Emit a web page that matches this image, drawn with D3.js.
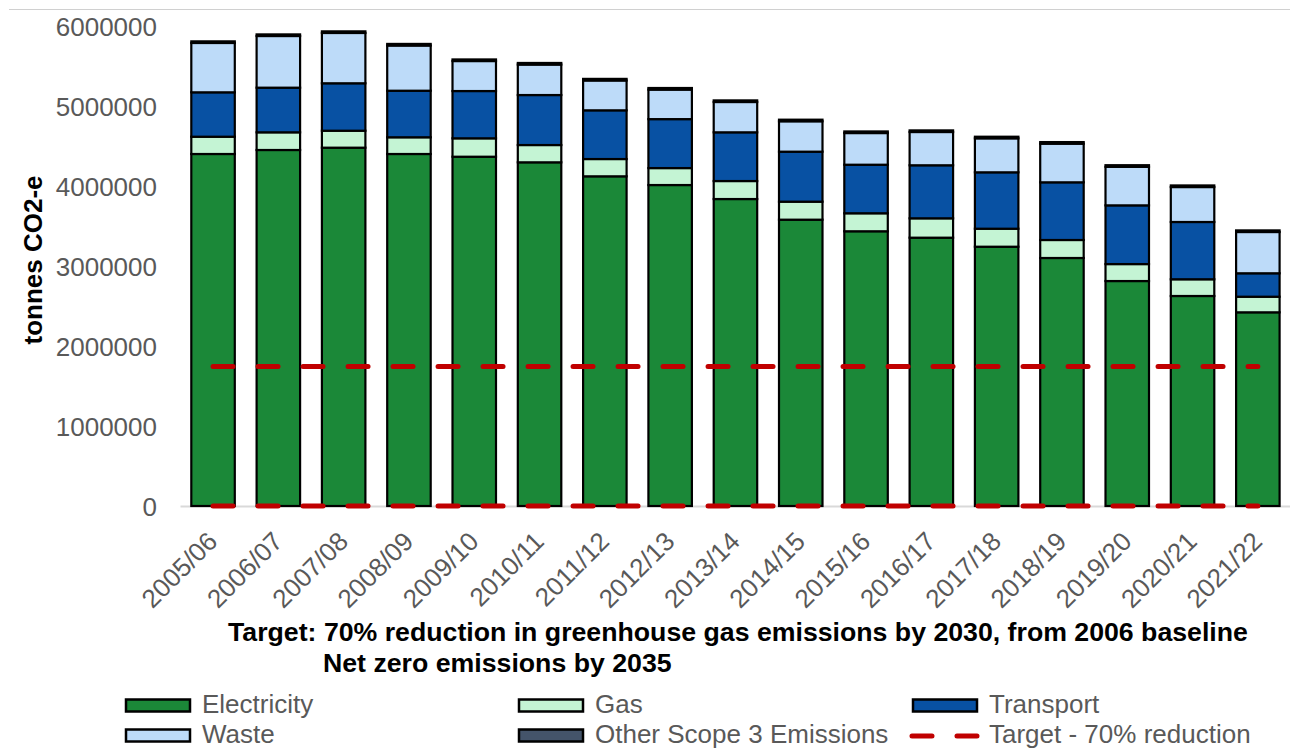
<!DOCTYPE html>
<html>
<head>
<meta charset="utf-8">
<script src="https://cdn.jsdelivr.net/npm/d3@7"></script>
<style>
  html, body { margin: 0; padding: 0; background: #ffffff; }
  svg { display: block; font-family: "Liberation Sans", Arial, sans-serif; }
</style>
</head>
<body>
<script>
const categories = ["2005/06","2006/07","2007/08","2008/09","2009/10","2010/11","2011/12","2012/13","2013/14","2014/15","2015/16","2016/17","2017/18","2018/19","2019/20","2020/21","2021/22"];
const electricity = [4400000,4450000,4479000,4400000,4366000,4296000,4121000,4012000,3837000,3579000,3434000,3354000,3241000,3100000,2812000,2625000,2421000];
const gas = [216000,221000,212000,209000,230000,216000,216000,212000,225000,225000,225000,242000,225000,225000,212000,209000,195000];
const transport = [555000,558000,593000,582000,591000,625000,609000,612000,609000,625000,607000,663000,705000,721000,734000,716000,293000];
const waste = [617000,646000,629000,565000,375000,381000,373000,369000,379000,380000,396000,416000,425000,483000,482000,437000,516000];
const otherScope3 = [20000,20000,20000,20000,20000,20000,20000,20000,20000,20000,20000,20000,20000,20000,20000,20000,20000];
const targetValue = 1743000;
const netZeroValue = 0;
const yTicks = [0,1000000,2000000,3000000,4000000,5000000,6000000];
const seriesNames = ["Electricity","Gas","Transport","Waste","Other Scope 3 Emissions"];
const seriesColors = ["#1b8838","#c4f4d4","#0851a3","#bddbf9","#44546a"];
const targetLabel = "Target - 70% reduction";
const note1 = "Target: 70% reduction in greenhouse gas emissions by 2030, from 2006 baseline";
const note2 = "Net zero emissions by 2035";
const yTitle = "tonnes CO2-e";

const W = 1290, H = 749;
const svg = d3.select("body").append("svg").attr("width", W).attr("height", H);

// top thin border line
svg.append("line").attr("x1", 9).attr("x2", W).attr("y1", 9.5).attr("y2", 9.5)
  .attr("stroke", "#d0d0d0").attr("stroke-width", 1);

const x = d3.scaleBand().domain(categories).range([180.4, 1290.5]).paddingInner(0.334).paddingOuter(0.167);
const y = d3.scaleLinear().domain([0, 6000000]).range([506, 26]);

const table = categories.map((c, i) => ({
  cat: c,
  "Electricity": electricity[i],
  "Gas": gas[i],
  "Transport": transport[i],
  "Waste": waste[i],
  "Other Scope 3 Emissions": otherScope3[i]
}));
const stack = d3.stack().keys(seriesNames)(table);

// y tick labels
const yAxis = d3.axisLeft(y).tickValues(yTicks).tickFormat(d3.format("d")).tickSize(0).tickPadding(0);
const yg = svg.append("g").attr("transform", "translate(157,0)").call(yAxis);
yg.select(".domain").remove();
yg.selectAll("text").attr("fill", "#595959").attr("font-size", "26px")
  .attr("font-family", "'Liberation Sans', Arial, sans-serif").attr("dy", "0.36em");

// baseline
svg.append("line").attr("x1", 180.5).attr("x2", 1290).attr("y1", y(0) + 0.5).attr("y2", y(0) + 0.5)
  .attr("stroke", "#d9d9d9").attr("stroke-width", 2);

// bars
const layers = svg.append("g").selectAll("g").data(stack).join("g")
  .attr("fill", (d, i) => seriesColors[i]);
layers.selectAll("rect").data(d => d).join("rect")
  .attr("x", d => x(d.data.cat))
  .attr("width", x.bandwidth())
  .attr("y", d => y(d[1]))
  .attr("height", d => Math.max(0, y(d[0]) - y(d[1])))
  .attr("stroke", "#000").attr("stroke-width", 2.2);

// target lines
const cx = c => x(c) + x.bandwidth() / 2;
[targetValue, netZeroValue].forEach(v => {
  svg.append("line")
    .attr("x1", cx(categories[0])).attr("x2", cx(categories[categories.length - 1]))
    .attr("y1", y(v)).attr("y2", y(v))
    .attr("stroke", "#c00000").attr("stroke-width", 5)
    .attr("stroke-linecap", "round").attr("stroke-dasharray", "20,25");
});

// x labels
const xg = svg.append("g");
xg.selectAll("text").data(categories).join("text")
  .attr("transform", d => `translate(${cx(d) + 6},${y(0) + 37}) rotate(-45)`)
  .attr("text-anchor", "end")
  .attr("fill", "#595959").attr("font-size", "26px")
  .text(d => d);

// y title
svg.append("text")
  .attr("transform", `translate(42,${y(3000000) - 6}) rotate(-90)`)
  .attr("text-anchor", "middle")
  .attr("font-weight", "bold").attr("font-size", "26px").attr("fill", "#000")
  .text(yTitle);

// notes
svg.append("text").attr("x", 228).attr("y", 641).attr("font-weight", "bold")
  .attr("font-size", "26.7px").attr("fill", "#000").text(note1);
svg.append("text").attr("x", 323).attr("y", 672).attr("font-weight", "bold")
  .attr("font-size", "26.7px").attr("fill", "#000").text(note2);

// legend
const legendItems = [
  {name: seriesNames[0], color: seriesColors[0], type: "rect", col: 0, row: 0},
  {name: seriesNames[1], color: seriesColors[1], type: "rect", col: 1, row: 0},
  {name: seriesNames[2], color: seriesColors[2], type: "rect", col: 2, row: 0},
  {name: seriesNames[3], color: seriesColors[3], type: "rect", col: 0, row: 1},
  {name: seriesNames[4], color: seriesColors[4], type: "rect", col: 1, row: 1},
  {name: targetLabel, color: "#c00000", type: "line", col: 2, row: 1}
];
const colX = [125, 518, 912];
const rowY = [706, 736];
const lg = svg.append("g");
legendItems.forEach(it => {
  const gx = colX[it.col], gy = rowY[it.row];
  if (it.type === "rect") {
    lg.append("rect").attr("x", gx + 1).attr("y", gy - 6.5).attr("width", 64).attr("height", 12)
      .attr("fill", it.color).attr("stroke", "#000").attr("stroke-width", 2.5);
  } else {
    lg.append("line").attr("x1", gx).attr("x2", gx + 67).attr("y1", gy).attr("y2", gy)
      .attr("stroke", it.color).attr("stroke-width", 5).attr("stroke-linecap", "round")
      .attr("stroke-dasharray", "20,25");
  }
  lg.append("text").attr("x", gx + 77).attr("y", gy + 7)
    .attr("fill", "#595959").attr("font-size", "26px").text(it.name);
});
</script>
</body>
</html>
